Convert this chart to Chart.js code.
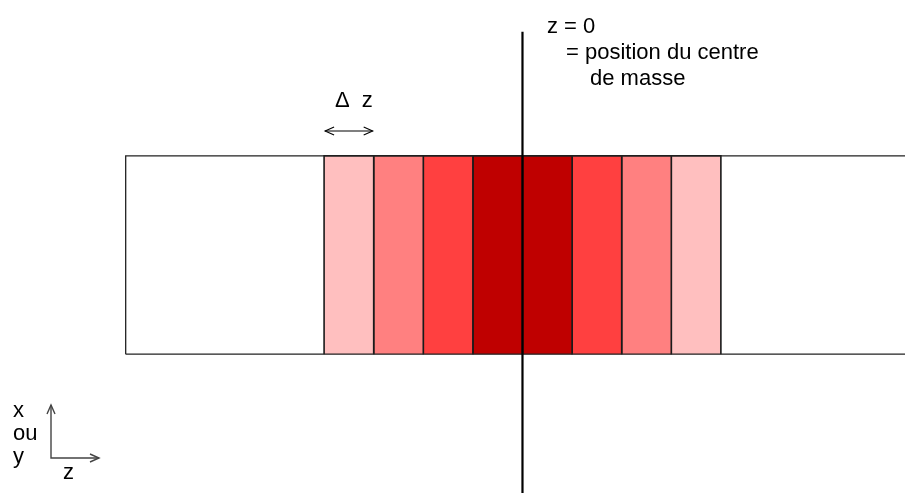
<!DOCTYPE html>
<html>
<head>
<meta charset="utf-8">
<script src="https://cdn.jsdelivr.net/npm/chart.js@4"></script>
<style>
  html, body { margin: 0; padding: 0; background: #fff; }
  #wrap { width: 905px; height: 497px; }
</style>
</head>
<body>
<div id="wrap"><canvas id="slabChart"></canvas></div>
<script>
// z in units of the slice width (delta z), centre of mass at z = 0
const sliceEdges = [-4, -3, -2, -1, 0, 1, 2, 3, 4];
const sliceColors = ['#FFBFBF', '#FF8080', '#FF4040', '#BF0000', '#BF0000', '#FF4040', '#FF8080', '#FFBFBF'];
const slabStart = -8;
const slabEnd = 8;
const slabHalfHeight = 2;
const centreLine = [4.5, -4.8];
const centreLabel = ['z = 0', '= position du centre', 'de masse'];
const deltaLabel = '\u0394  z';
const axisLabels = ['x', 'ou', 'y'];

// up one side, across the top, down the other side
function outline(x0, x1, h) {
    return [
        { x: x0, y: -h },
        { x: x0, y: h },
        { x: x1, y: h },
        { x: x1, y: -h }
    ];
}

const datasets = [];

// centre of mass line
datasets.push({
    data: [{ x: 0, y: centreLine[0] }, { x: 0, y: centreLine[1] }],
    borderColor: '#000',
    borderWidth: 2.2,
    pointRadius: 0,
    fill: false,
    order: 0
});

// whole slab (outline on top of the slices so the bottom edge shows)
datasets.push({
    data: outline(slabStart, slabEnd, slabHalfHeight).concat([{ x: slabStart, y: -slabHalfHeight }]),
    borderColor: '#222',
    borderWidth: 1.3,
    pointRadius: 0,
    fill: false,
    order: 1
});

// coloured slices, filled down to the bottom of the slab
for (let i = 0; i < sliceColors.length; i++) {
    datasets.push({
        data: outline(sliceEdges[i], sliceEdges[i + 1], slabHalfHeight),
        borderColor: '#1a1a1a',
        borderWidth: 1.6,
        backgroundColor: sliceColors[i],
        pointRadius: 0,
        fill: { value: -slabHalfHeight },
        order: 2
    });
}

function arrowHead(ctx, x, y, dx, dy) {
    const len = 9, w = 4;
    const n = Math.hypot(dx, dy);
    const ux = dx / n, uy = dy / n;
    ctx.beginPath();
    ctx.moveTo(x - ux * len - uy * w, y - uy * len + ux * w);
    ctx.lineTo(x, y);
    ctx.lineTo(x - ux * len + uy * w, y - uy * len - ux * w);
    ctx.stroke();
}

const annotations = {
    id: 'annotations',
    afterDatasetsDraw(chart) {
        const ctx = chart.ctx;
        const xs = chart.scales.x;
        ctx.save();
        ctx.fillStyle = '#000';
        ctx.font = '22px "Liberation Sans", Arial, sans-serif';
        ctx.textBaseline = 'alphabetic';

        // label of the centre of mass line
        ctx.textAlign = 'left';
        const indents = [547, 566, 590];
        centreLabel.forEach((t, i) => ctx.fillText(t, indents[i], 33 + i * 26));

        // delta z with a double arrow over the first slice
        const a = xs.getPixelForValue(sliceEdges[0]);
        const b = xs.getPixelForValue(sliceEdges[1]);
        ctx.textAlign = 'center';
        ctx.fillText(deltaLabel, (a + b) / 2 + 5, 107);
        ctx.strokeStyle = '#000';
        ctx.lineWidth = 1.1;
        ctx.beginPath();
        ctx.moveTo(a + 1, 131);
        ctx.lineTo(b - 1, 131);
        ctx.stroke();
        arrowHead(ctx, b - 1, 131, 1, 0);
        arrowHead(ctx, a + 1, 131, -1, 0);

        // orientation key
        ctx.textAlign = 'left';
        axisLabels.forEach((t, i) => ctx.fillText(t, 13, 417 + i * 23));
        ctx.fillText('z', 63, 479);
        ctx.strokeStyle = '#444';
        ctx.lineWidth = 1.4;
        ctx.beginPath();
        ctx.moveTo(51, 405);
        ctx.lineTo(51, 458);
        ctx.lineTo(99, 458);
        ctx.stroke();
        arrowHead(ctx, 51, 405, 0, -1);
        arrowHead(ctx, 99, 458, 1, 0);
        ctx.restore();
    }
};

new Chart(document.getElementById('slabChart'), {
    type: 'line',
    data: { datasets: datasets },
    options: {
        responsive: true,
        maintainAspectRatio: false,
        animation: false,
        layout: { padding: 0 },
        elements: { line: { tension: 0 } },
        plugins: {
            legend: { display: false },
            tooltip: { enabled: false }
        },
        scales: {
            x: { type: 'linear', min: -10.534, max: 7.712, display: false },
            y: { type: 'linear', min: -4.879, max: 5.141, display: false }
        }
    },
    plugins: [annotations]
});
</script>
</body>
</html>
